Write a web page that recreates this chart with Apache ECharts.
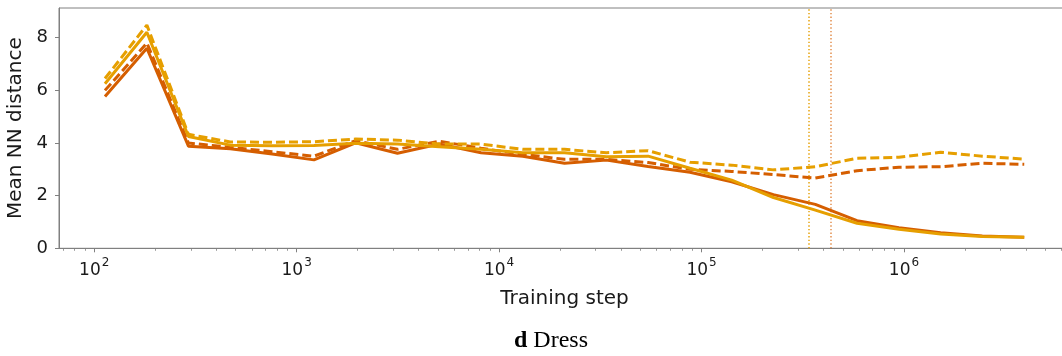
<!DOCTYPE html>
<html>
<head>
<meta charset="utf-8">
<script src="https://cdn.jsdelivr.net/npm/echarts@6/dist/echarts.min.js"></script>
<style>
  html, body { margin: 0; padding: 0; background: #fff; }
  #chart { width: 1062px; height: 356px; }
</style>
</head>
<body>
<div id="chart"></div>
<script>
// Training checkpoints (log-spaced steps)
const steps = [113, 182, 292, 470, 757, 1217, 1955, 3148, 5058, 8144, 13090, 21040,
  33880, 54450, 87700, 140900, 226500, 364800, 586100, 944000, 1517000, 2438000, 3926000];

// Mean nearest-neighbour distance per run
const darkSolid   = [5.77, 7.60, 3.88, 3.78, 3.58, 3.36, 4.01, 3.61, 3.96, 3.63, 3.50, 3.23,
  3.35, 3.11, 2.89, 2.53, 2.04, 1.67, 1.05, 0.78, 0.59, 0.47, 0.42];
const darkDashed  = [6.00, 7.80, 4.00, 3.84, 3.67, 3.50, 4.09, 3.76, 4.07, 3.80, 3.57, 3.38,
  3.38, 3.26, 3.00, 2.92, 2.80, 2.67, 2.95, 3.08, 3.10, 3.23, 3.19];
const orangeSolid = [6.25, 8.21, 4.25, 3.92, 3.90, 3.91, 3.99, 3.96, 3.86, 3.76, 3.63, 3.63,
  3.48, 3.50, 3.04, 2.59, 1.93, 1.45, 0.95, 0.72, 0.54, 0.45, 0.42];
const orangeDashed= [6.45, 8.48, 4.33, 4.04, 4.03, 4.05, 4.15, 4.11, 3.96, 3.96, 3.76, 3.76,
  3.63, 3.71, 3.27, 3.16, 2.98, 3.10, 3.42, 3.46, 3.65, 3.50, 3.39];

// Steps marked with dotted guides
const guideOrange = 337000;
const guideDark = 436000;

// Axis ticks
const majorTicks = [100, 1000, 10000, 100000, 1000000];
const minorTicks = [];
[10, 100, 1000, 10000, 100000, 1000000].forEach(function (d) {
  for (let m = 2; m <= 9; m++) minorTicks.push(m * d);
});
const yTicks = [0, 2, 4, 6, 8];

const DARK = '#D55E00';
const ORANGE = '#E69F00';
const SPINE = '#808080';
const TEXT = '#1a1a1a';
const X_MIN = Math.pow(10, 1.826);
const X_MAX = Math.pow(10, 6.82);

function pairs(ys) {
  return steps.map(function (s, i) { return [s, ys[i]]; });
}

function lineSeries(name, ys, color, dashed, z) {
  return {
    name: name,
    type: 'line',
    data: pairs(ys),
    showSymbol: false,
    symbol: 'none',
    z: z,
    lineStyle: {
      color: color,
      width: 3,
      type: dashed ? [9, 4] : 'solid',
      cap: 'butt'
    },
    emphasis: { disabled: true }
  };
}

const chart = echarts.init(document.getElementById('chart'), null, { renderer: 'canvas' });

const seriesList = [
  lineSeries('dark', darkSolid, DARK, false, 3),
  lineSeries('dark (dashed)', darkDashed, DARK, true, 4),
  lineSeries('orange', orangeSolid, ORANGE, false, 5),
  lineSeries('orange (dashed)', orangeDashed, ORANGE, true, 6)
];

// Dotted vertical guides
seriesList[0].markLine = {
  silent: true,
  symbol: 'none',
  label: { show: false },
  data: [
    { xAxis: guideOrange, lineStyle: { color: ORANGE, width: 1.5, type: [1.4, 2.2], opacity: 0.95 } },
    { xAxis: guideDark, lineStyle: { color: DARK, width: 1.5, type: [1.4, 2.2], opacity: 0.7 } }
  ]
};

chart.setOption({
  animation: false,
  backgroundColor: '#ffffff',
  grid: {
    left: 59, top: 8, right: -8, bottom: 107.7,
    outerBoundsMode: 'none',
    containLabel: false,
    show: true, borderColor: SPINE, borderWidth: 1, backgroundColor: 'transparent'
  },
  xAxis: [
    {
      type: 'log',
      logBase: 10,
      min: X_MIN,
      max: X_MAX,
      name: 'Training step',
      nameLocation: 'middle',
      nameGap: 40,
      nameTextStyle: { fontFamily: 'DejaVu Sans', fontSize: 20, color: TEXT },
      axisLine: { show: true, lineStyle: { color: SPINE, width: 1 } },
      axisTick: { show: true, inside: false, length: 4, customValues: majorTicks,
        lineStyle: { color: SPINE, width: 1 } },
      axisLabel: {
        customValues: majorTicks,
        margin: 9,
        color: TEXT,
        fontFamily: 'DejaVu Sans',
        formatter: function (v) {
          return '{b|10}{s|' + Math.round(Math.log10(v)) + '}';
        },
        rich: {
          b: { fontFamily: 'DejaVu Sans', fontSize: 17, color: TEXT, lineHeight: 22, verticalAlign: 'bottom' },
          s: { fontFamily: 'DejaVu Sans', fontSize: 12, color: TEXT, lineHeight: 22, verticalAlign: 'top', padding: [0, 0, 0, 1] }
        }
      },
      splitLine: { show: false }
    },
    {
      type: 'log',
      logBase: 10,
      min: X_MIN,
      max: X_MAX,
      position: 'bottom',
      axisLine: { show: false },
      axisTick: { show: true, length: 2.5, customValues: minorTicks,
        lineStyle: { color: SPINE, width: 0.8 } },
      axisLabel: { show: false },
      splitLine: { show: false }
    }
  ],
  yAxis: {
    type: 'value',
    min: 0,
    max: 9.13,
    interval: 2,
    name: 'Mean NN distance',
    nameLocation: 'middle',
    nameGap: 33,
    nameTextStyle: { fontFamily: 'DejaVu Sans', fontSize: 20, color: TEXT },
    axisLine: { show: true, lineStyle: { color: SPINE, width: 1 } },
    axisTick: { show: true, length: 4, customValues: yTicks, lineStyle: { color: SPINE, width: 1 } },
    axisLabel: {
      customValues: yTicks,
      margin: 11,
      color: TEXT,
      fontFamily: 'DejaVu Sans',
      fontSize: 18
    },
    splitLine: { show: false }
  },
  series: seriesList,
  graphic: [
    {
      type: 'text',
      left: 514,
      top: 329,
      style: {
        text: '{d|d}{n|Dress}',
        rich: {
          d: { fontFamily: 'Liberation Serif', fontWeight: 'bold', fontSize: 24, fill: '#000', padding: [0, 6, 0, 0] },
          n: { fontFamily: 'Liberation Serif', fontSize: 24, fill: '#000' }
        }
      }
    }
  ]
});
</script>
</body>
</html>
